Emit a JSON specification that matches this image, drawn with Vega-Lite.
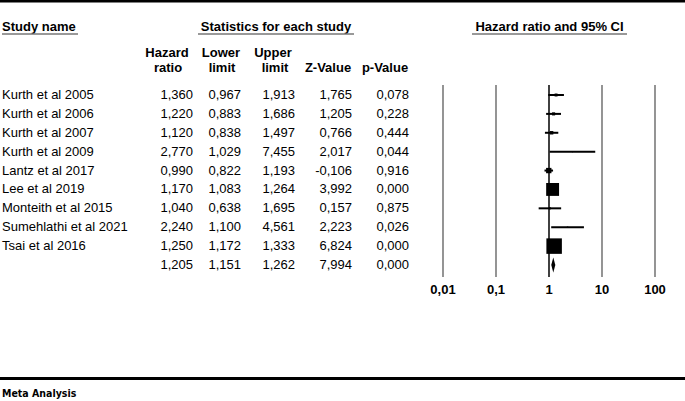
{
  "$schema": "https://vega.github.io/schema/vega-lite/v6.json",
  "width": 685,
  "height": 401,
  "autosize": {"type": "none"},
  "padding": 0,
  "background": "white",
  "config": {
    "view": {"stroke": null},
    "font": "Liberation Sans",
    "text": {"font": "Liberation Sans", "fontSize": 13, "color": "black"},
    "locale": {"number": {"decimal": ",", "thousands": ".", "grouping": [3], "currency": ["", ""], "minus": "-"}}
  },
  "data": {
    "values": [
      {"study": "Kurth et al 2005", "hr": 1.360, "lower": 0.967, "upper": 1.913, "z": 1.765, "p": 0.078, "weight": 33.0},
      {"study": "Kurth et al 2006", "hr": 1.220, "lower": 0.883, "upper": 1.686, "z": 1.205, "p": 0.228, "weight": 36.7},
      {"study": "Kurth et al 2007", "hr": 1.120, "lower": 0.838, "upper": 1.497, "z": 0.766, "p": 0.444, "weight": 45.6},
      {"study": "Kurth et al 2009", "hr": 2.770, "lower": 1.029, "upper": 7.455, "z": 2.017, "p": 0.044, "weight": 3.9},
      {"study": "Lantz et al 2017", "hr": 0.990, "lower": 0.822, "upper": 1.193, "z": -0.106, "p": 0.916, "weight": 111},
      {"study": "Lee et al 2019", "hr": 1.170, "lower": 1.083, "upper": 1.264, "z": 3.992, "p": 0.000, "weight": 644},
      {"study": "Monteith et al 2015", "hr": 1.040, "lower": 0.638, "upper": 1.695, "z": 0.157, "p": 0.875, "weight": 16.1},
      {"study": "Sumehlathi et al 2021", "hr": 2.240, "lower": 1.100, "upper": 4.561, "z": 2.223, "p": 0.026, "weight": 7.6},
      {"study": "Tsai et al 2016", "hr": 1.250, "lower": 1.172, "upper": 1.333, "z": 6.824, "p": 0.000, "weight": 928},
      {"study": "Overall", "hr": 1.205, "lower": 1.151, "upper": 1.262, "z": 7.994, "p": 0.000, "weight": null}
    ]
  },
  "encoding": {
    "y": {
      "field": "study", "type": "nominal", "axis": null,
      "scale": {
        "type": "point", "padding": 0, "range": [95, 265],
        "domain": ["Kurth et al 2005", "Kurth et al 2006", "Kurth et al 2007", "Kurth et al 2009", "Lantz et al 2017", "Lee et al 2019", "Monteith et al 2015", "Sumehlathi et al 2021", "Tsai et al 2016", "Overall"]
      }
    }
  },
  "layer": [
    {
      "transform": [{"filter": "datum.study !== 'Overall'"}],
      "mark": {"type": "text", "align": "left", "baseline": "middle"},
      "encoding": {"x": {"value": 2}, "text": {"field": "study"}}
    },
    {
      "mark": {"type": "text", "align": "right", "baseline": "middle"},
      "encoding": {"x": {"value": 193}, "text": {"field": "hr", "type": "quantitative", "format": ".3f"}}
    },
    {
      "mark": {"type": "text", "align": "right", "baseline": "middle"},
      "encoding": {"x": {"value": 241}, "text": {"field": "lower", "type": "quantitative", "format": ".3f"}}
    },
    {
      "mark": {"type": "text", "align": "right", "baseline": "middle"},
      "encoding": {"x": {"value": 295}, "text": {"field": "upper", "type": "quantitative", "format": ".3f"}}
    },
    {
      "mark": {"type": "text", "align": "right", "baseline": "middle"},
      "encoding": {"x": {"value": 352}, "text": {"field": "z", "type": "quantitative", "format": ".3f"}}
    },
    {
      "mark": {"type": "text", "align": "right", "baseline": "middle"},
      "encoding": {"x": {"value": 409}, "text": {"field": "p", "type": "quantitative", "format": ".3f"}}
    },
    {
      "data": {"values": [{"v": 0.01}, {"v": 0.1}, {"v": 1}, {"v": 10}, {"v": 100}]},
      "mark": {"type": "rule", "strokeWidth": 1.6},
      "encoding": {
        "x": {"field": "v", "type": "quantitative", "scale": {"type": "log", "domain": [0.01, 100], "range": [443, 655], "nice": false}, "axis": null},
        "y": {"value": 85},
        "y2": {"value": 277},
        "color": {"condition": {"test": "datum.v === 1", "value": "#111111"}, "value": "#7a7a7a"}
      }
    },
    {
      "data": {"values": [{"v": 0.01}, {"v": 0.1}, {"v": 1}, {"v": 10}, {"v": 100}]},
      "mark": {"type": "text", "align": "center", "baseline": "middle", "fontWeight": "bold"},
      "encoding": {
        "x": {"field": "v", "type": "quantitative"},
        "y": {"value": 290},
        "text": {"field": "v", "type": "quantitative", "format": "~g"}
      }
    },
    {
      "transform": [{"filter": "datum.study !== 'Overall'"}],
      "mark": {"type": "rule", "strokeWidth": 2, "color": "black"},
      "encoding": {
        "x": {"field": "lower", "type": "quantitative"},
        "x2": {"field": "upper"}
      }
    },
    {
      "transform": [{"filter": "datum.study !== 'Overall'"}],
      "mark": {"type": "point", "shape": "square", "filled": true, "color": "black", "opacity": 1},
      "encoding": {
        "x": {"field": "hr", "type": "quantitative"},
        "size": {"field": "weight", "type": "quantitative", "legend": null, "scale": {"type": "linear", "domain": [0, 928], "range": [0, 240], "zero": true}}
      }
    },
    {
      "transform": [{"filter": "datum.study === 'Overall'"}],
      "mark": {"type": "point", "shape": "M0,-1L0.27,0L0,1L-0.27,0Z", "filled": true, "color": "black", "opacity": 1, "size": 225},
      "encoding": {
        "x": {"field": "hr", "type": "quantitative"}
      }
    },
    {
      "data": {"values": [{"t": "Study name"}]},
      "mark": {"type": "text", "align": "left", "baseline": "middle", "fontWeight": "bold"},
      "encoding": {"x": {"value": 2}, "y": {"value": 27}, "text": {"field": "t"}}
    },
    {
      "data": {"values": [{"t": "Statistics for each study"}]},
      "mark": {"type": "text", "align": "center", "baseline": "middle", "fontWeight": "bold"},
      "encoding": {"x": {"value": 276}, "y": {"value": 27}, "text": {"field": "t"}}
    },
    {
      "data": {"values": [{"t": "Hazard ratio and 95% CI"}]},
      "mark": {"type": "text", "align": "center", "baseline": "middle", "fontWeight": "bold"},
      "encoding": {"x": {"value": 549.5}, "y": {"value": 27}, "text": {"field": "t"}}
    },
    {
      "data": {"values": [{"t": "Hazard"}]},
      "mark": {"type": "text", "align": "center", "baseline": "middle", "fontWeight": "bold"},
      "encoding": {"x": {"value": 167}, "y": {"value": 53}, "text": {"field": "t"}}
    },
    {
      "data": {"values": [{"t": "ratio"}]},
      "mark": {"type": "text", "align": "center", "baseline": "middle", "fontWeight": "bold"},
      "encoding": {"x": {"value": 168}, "y": {"value": 68}, "text": {"field": "t"}}
    },
    {
      "data": {"values": [{"t": "Lower"}]},
      "mark": {"type": "text", "align": "center", "baseline": "middle", "fontWeight": "bold"},
      "encoding": {"x": {"value": 221}, "y": {"value": 53}, "text": {"field": "t"}}
    },
    {
      "data": {"values": [{"t": "limit"}]},
      "mark": {"type": "text", "align": "center", "baseline": "middle", "fontWeight": "bold"},
      "encoding": {"x": {"value": 222}, "y": {"value": 68}, "text": {"field": "t"}}
    },
    {
      "data": {"values": [{"t": "Upper"}]},
      "mark": {"type": "text", "align": "center", "baseline": "middle", "fontWeight": "bold"},
      "encoding": {"x": {"value": 273}, "y": {"value": 53}, "text": {"field": "t"}}
    },
    {
      "data": {"values": [{"t": "limit"}]},
      "mark": {"type": "text", "align": "center", "baseline": "middle", "fontWeight": "bold"},
      "encoding": {"x": {"value": 275}, "y": {"value": 68}, "text": {"field": "t"}}
    },
    {
      "data": {"values": [{"t": "Z-Value"}]},
      "mark": {"type": "text", "align": "center", "baseline": "middle", "fontWeight": "bold"},
      "encoding": {"x": {"value": 328}, "y": {"value": 68}, "text": {"field": "t"}}
    },
    {
      "data": {"values": [{"t": "p-Value"}]},
      "mark": {"type": "text", "align": "center", "baseline": "middle", "fontWeight": "bold"},
      "encoding": {"x": {"value": 385}, "y": {"value": 68}, "text": {"field": "t"}}
    },
    {
      "data": {"values": [{"t": "Meta Analysis"}]},
      "mark": {"type": "text", "align": "left", "baseline": "middle", "fontWeight": "bold", "font": "'DejaVu Sans Condensed', 'Liberation Sans'", "fontSize": 10.5},
      "encoding": {"x": {"value": 2}, "y": {"value": 394}, "text": {"field": "t"}}
    },
    {
      "data": {"values": [{"a": 2, "b": 78}, {"a": 198, "b": 354}, {"a": 472, "b": 627}]},
      "mark": {"type": "rule", "strokeWidth": 1.5, "color": "#777777"},
      "encoding": {"x": {"field": "a", "type": "quantitative", "scale": null}, "x2": {"field": "b"}, "y": {"value": 34}}
    },
    {
      "data": {"values": [{"k": "top"}]},
      "mark": {"type": "rule", "strokeWidth": 3, "color": "black"},
      "encoding": {"x": {"value": 0}, "x2": {"value": 685}, "y": {"value": 1}}
    },
    {
      "data": {"values": [{"k": "bottom"}]},
      "mark": {"type": "rule", "strokeWidth": 3, "color": "black"},
      "encoding": {"x": {"value": 0}, "x2": {"value": 685}, "y": {"value": 378.5}}
    }
  ]
}
